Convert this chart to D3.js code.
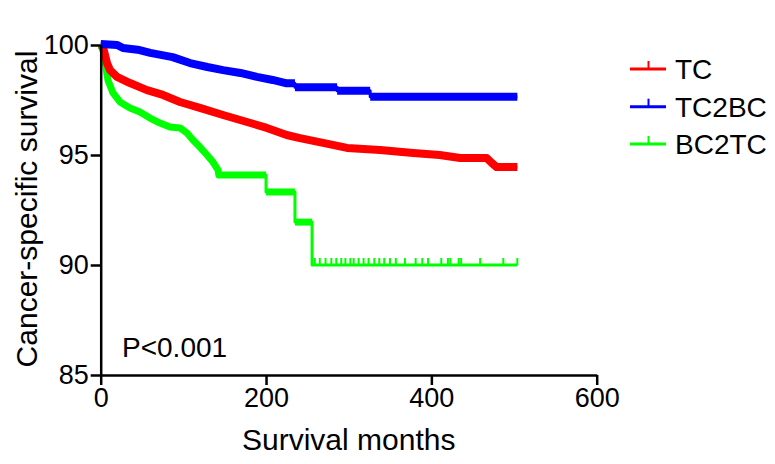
<!DOCTYPE html>
<html><head><meta charset="utf-8">
<script src="https://cdn.jsdelivr.net/npm/d3@7"></script>
<style>
body{margin:0;background:#fff}
svg{display:block}
text{font-family:"Liberation Sans",Arial,Helvetica,sans-serif;fill:#000}
</style>
</head><body>
<svg id="chart" width="775" height="464"></svg>
<script>
// ---- data (curve vertices: months, survival %) ----
const seriesNames = ["TC", "TC2BC", "BC2TC"];
const seriesColors = ["#ff0000", "#0000ff", "#00ff00"];

const tcTimes  = [0, 2.8, 7.6, 11.3, 19.7, 35.4, 56, 75.4, 95.9, 120, 148, 177, 201, 225, 241, 269, 298, 338, 378, 410, 435, 467, 473, 479, 504];
const tcValues = [100, 99.91, 99.18, 98.86, 98.55, 98.27, 97.95, 97.73, 97.41, 97.14, 96.82, 96.5, 96.23, 95.91, 95.77, 95.55, 95.32, 95.23, 95.09, 95.0, 94.86, 94.86, 94.64, 94.45, 94.45];

const tc2bcTimes  = [0, 20, 27, 47, 60, 87, 108, 129, 148, 169, 189, 208, 225, 235, 235, 286, 286, 326, 326, 504];
const tc2bcValues = [100.05, 100.0, 99.86, 99.77, 99.64, 99.45, 99.18, 99.0, 98.86, 98.73, 98.55, 98.41, 98.26, 98.26, 98.08, 98.08, 97.92, 97.92, 97.65, 97.65];

const bc2tcTimes  = [0, 2.8, 8.8, 14.9, 23.3, 35.4, 47.5, 59.6, 71.7, 83.8, 95.9, 104.4, 111.6, 120, 128.6, 135.8, 141.9, 143, 200, 200, 235, 235, 255.7, 255.7, 504];
const bc2tcValues = [100, 99.77, 98.4, 97.82, 97.41, 97.14, 96.95, 96.68, 96.45, 96.27, 96.23, 96.0, 95.68, 95.36, 95.0, 94.68, 94.32, 94.09, 94.09, 93.32, 93.32, 91.95, 91.95, 90.0, 90.0];
const bc2tcCensorTimes = [259, 265, 272, 279, 285, 291, 296, 302, 306, 312, 318, 324, 331, 337, 343, 350, 357, 368, 381, 389, 396, 412, 420, 423, 433, 436, 459, 487, 504];

// end of the dense-censoring (thick) part of each curve, months
const bandEnds = [504, 504, 255.7];

const xTickValues = [0, 200, 400, 600];
const yTickValues = [85, 90, 95, 100];
const xTitle = "Survival months";
const yTitle = "Cancer-specific survival";
const pText = "P<0.001";

// ---- layout ----
const svg = d3.select("#chart");
const x = d3.scaleLinear().domain([0, 600]).range([100.7, 596.7]);
const y = d3.scaleLinear().domain([85, 100]).range([375, 45]);

const series = [
  {name: seriesNames[0], color: seriesColors[0], pts: tcTimes.map((t, i) => [t, tcValues[i]]), band: bandEnds[0], bw: 8, censor: []},
  {name: seriesNames[1], color: seriesColors[1], pts: tc2bcTimes.map((t, i) => [t, tc2bcValues[i]]), band: bandEnds[1], bw: 8, censor: []},
  {name: seriesNames[2], color: seriesColors[2], pts: bc2tcTimes.map((t, i) => [t, bc2tcValues[i]]), band: bandEnds[2], bw: 7, censor: bc2tcCensorTimes}
];

function valueAt(pts, t) {
  let v = pts[0][1];
  for (const p of pts) { if (p[0] <= t) v = p[1]; }
  return v;
}

const line = d3.line().x(d => x(d[0])).y(d => y(d[1]));

const drawOrder = [2, 0, 1];
drawOrder.forEach(k => {
  const s = series[k];
  const g = svg.append("g");
  // thin line for the whole curve
  g.append("path").attr("d", line(s.pts)).attr("fill", "none")
    .attr("stroke", s.color).attr("stroke-width", 3).attr("stroke-linejoin", "round");
  // thick runs (dense censor marks), split at vertical drops
  const runs = [];
  let cur = [];
  s.pts.forEach((p, i) => {
    if (p[0] > s.band) return;
    if (i > 0 && cur.length && p[0] === cur[cur.length - 1][0]) {
      if (cur.length > 1) runs.push(cur);
      cur = [p];
    } else {
      cur.push(p);
    }
  });
  if (cur.length > 1) runs.push(cur);
  g.selectAll("path.band").data(runs).join("path").attr("class", "band")
    .attr("d", d => line(d)).attr("fill", "none")
    .attr("stroke", s.color).attr("stroke-width", s.bw)
    .attr("stroke-linejoin", "round").attr("stroke-linecap", "butt");
  // sparse censor ticks
  g.selectAll("line.cens").data(s.censor).join("line").attr("class", "cens")
    .attr("x1", d => x(d)).attr("x2", d => x(d))
    .attr("y1", d => y(valueAt(s.pts, d))).attr("y2", d => y(valueAt(s.pts, d)) - 7)
    .attr("stroke", s.color).attr("stroke-width", 2);
});

// ---- axes ----
const xAxis = d3.axisBottom(x).tickValues(xTickValues).tickSize(10).tickPadding(3).tickSizeOuter(0);
const yAxis = d3.axisLeft(y).tickValues(yTickValues).tickSize(10).tickPadding(2).tickSizeOuter(0);

const gx = svg.append("g").attr("transform", "translate(0,375)").call(xAxis);
const gy = svg.append("g").attr("transform", "translate(100.7,0)").call(yAxis);
[gx, gy].forEach(g => {
  g.select(".domain").attr("stroke", "#000").attr("stroke-width", 2.5);
  g.selectAll(".tick line").attr("stroke", "#000").attr("stroke-width", 2.5);
  g.selectAll(".tick text").attr("font-size", 27).attr("fill", "#000")
    .style("font-family", '"Liberation Sans",Arial,Helvetica,sans-serif');
});

svg.append("text").attr("x", 348.7).attr("y", 450).attr("text-anchor", "middle")
  .attr("font-size", 30).text(xTitle);
svg.append("text").attr("transform", "translate(37,209) rotate(-90)").attr("text-anchor", "middle")
  .attr("font-size", 30).text(yTitle);
svg.append("text").attr("x", 122).attr("y", 357).attr("font-size", 28).text(pText);

// ---- legend ----
const legendY = [69, 106.7, 144];
const lg = svg.append("g");
series.forEach((s, i) => {
  const ly = legendY[i];
  lg.append("line").attr("x1", 630).attr("x2", 666).attr("y1", ly).attr("y2", ly)
    .attr("stroke", s.color).attr("stroke-width", 3);
  lg.append("line").attr("x1", 648.5).attr("x2", 648.5).attr("y1", ly).attr("y2", ly - 8)
    .attr("stroke", s.color).attr("stroke-width", 2);
  lg.append("text").attr("x", 675).attr("y", ly + 10).attr("font-size", 28).text(s.name);
});
</script>
</body></html>
